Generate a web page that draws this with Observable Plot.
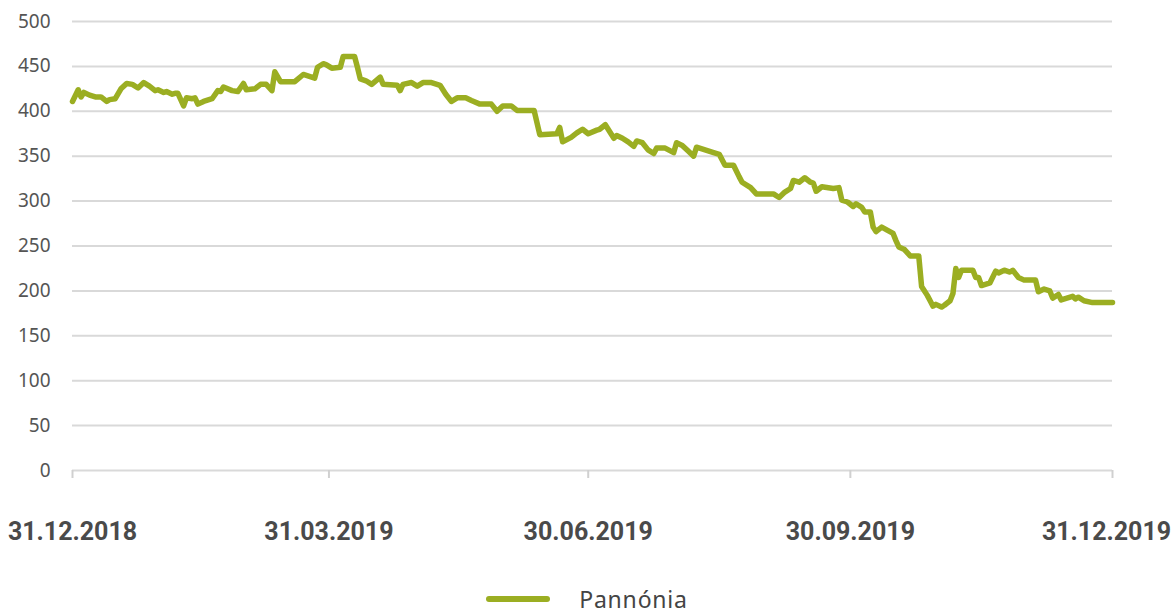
<!DOCTYPE html>
<html>
<head>
<meta charset="utf-8">
<script src="https://cdn.jsdelivr.net/npm/d3@7"></script>
<script src="https://cdn.jsdelivr.net/npm/@observablehq/plot@0.6"></script>
<style>
  html, body { margin: 0; padding: 0; background: #fff; }
  #chart svg { overflow: visible; display: block; }
  .legend { display: flex; justify-content: center; align-items: center; height: 30px; margin-top: 24px; font-family: "Noto Sans", sans-serif; font-size: 23px; line-height: 30px; letter-spacing: 0.8px; color: #444; }
  .legend .sw { width: 64px; height: 6px; background: #9bae22; border-radius: 3px; margin-right: 29px; }
</style>
</head>
<body>
<div id="chart"></div>
<div class="legend"><span class="sw"></span><span>Pannónia</span></div>
<script>
const seriesName = "Pannónia";
const dates = [
  "2018-12-31","2019-01-02","2019-01-03","2019-01-04","2019-01-06","2019-01-08","2019-01-10","2019-01-12","2019-01-13","2019-01-15",
  "2019-01-17","2019-01-19","2019-01-21","2019-01-23","2019-01-25","2019-01-27","2019-01-29","2019-01-30","2019-02-01","2019-02-02",
  "2019-02-04","2019-02-05","2019-02-06","2019-02-08","2019-02-09","2019-02-11","2019-02-12","2019-02-13","2019-02-15","2019-02-18",
  "2019-02-20","2019-02-21","2019-02-22","2019-02-25","2019-02-27","2019-03-01","2019-03-02","2019-03-05","2019-03-07","2019-03-09",
  "2019-03-11","2019-03-12","2019-03-14","2019-03-19","2019-03-22","2019-03-26","2019-03-27","2019-03-29","2019-03-30","2019-04-01",
  "2019-04-04","2019-04-05","2019-04-09","2019-04-10","2019-04-11","2019-04-13","2019-04-15","2019-04-18","2019-04-19","2019-04-24",
  "2019-04-25","2019-04-26","2019-04-29","2019-05-01","2019-05-03","2019-05-06","2019-05-09","2019-05-11","2019-05-13","2019-05-15",
  "2019-05-18","2019-05-20","2019-05-23","2019-05-27","2019-05-29","2019-05-31","2019-06-03","2019-06-05","2019-06-11","2019-06-13",
  "2019-06-19","2019-06-20","2019-06-21","2019-06-24","2019-06-26","2019-06-28","2019-06-30","2019-07-03","2019-07-04","2019-07-06",
  "2019-07-09","2019-07-10","2019-07-12","2019-07-14","2019-07-16","2019-07-17","2019-07-19","2019-07-21","2019-07-23","2019-07-24",
  "2019-07-27","2019-07-30","2019-07-31","2019-08-02","2019-08-04","2019-08-06","2019-08-07","2019-08-10","2019-08-13","2019-08-15",
  "2019-08-17","2019-08-20","2019-08-22","2019-08-23","2019-08-26","2019-08-28","2019-09-03","2019-09-05","2019-09-07","2019-09-09",
  "2019-09-10","2019-09-12","2019-09-14","2019-09-16","2019-09-17","2019-09-18","2019-09-20","2019-09-24","2019-09-26","2019-09-27",
  "2019-09-29","2019-10-01","2019-10-02","2019-10-04","2019-10-05","2019-10-07","2019-10-08","2019-10-09","2019-10-11","2019-10-15",
  "2019-10-16","2019-10-17","2019-10-19","2019-10-21","2019-10-24","2019-10-25","2019-10-27","2019-10-28","2019-10-29","2019-10-30",
  "2019-11-01","2019-11-02","2019-11-04","2019-11-05","2019-11-06","2019-11-07","2019-11-08","2019-11-12","2019-11-13","2019-11-14",
  "2019-11-15","2019-11-18","2019-11-20","2019-11-21","2019-11-23","2019-11-25","2019-11-26","2019-11-28","2019-11-30","2019-12-04",
  "2019-12-05","2019-12-07","2019-12-09","2019-12-10","2019-12-12","2019-12-13","2019-12-17","2019-12-18","2019-12-19","2019-12-21",
  "2019-12-24","2019-12-31"
];
const values = [
  411,424,416,421,418,416,416,411,413,414,
  425,431,430,426,432,428,423,424,421,422,
  419,420,420,406,415,414,415,408,411,414,
  423,422,427,423,422,431,424,425,430,430,
  423,444,433,433,441,437,449,453,452,448,
  449,461,461,449,436,434,430,438,430,429,
  423,430,432,428,432,432,429,419,411,415,
  415,412,408,408,400,406,406,401,401,374,
  375,382,366,371,376,380,375,379,380,385,
  370,373,370,366,361,367,365,357,353,359,
  359,354,365,362,356,350,360,357,354,352,
  340,340,327,321,315,308,308,304,310,314,
  323,321,326,321,320,311,316,314,315,301,
  299,294,297,293,288,288,271,266,271,264,
  256,249,246,239,239,205,195,189,183,185,
  182,184,189,197,225,215,223,223,215,215,
  206,209,222,220,223,221,223,215,212,212,
  199,202,200,192,196,190,194,191,193,189,
  187,187
];
const yTicks = [0, 50, 100, 150, 200, 250, 300, 350, 400, 450, 500];
const xTickDates = ["2018-12-31", "2019-03-31", "2019-06-30", "2019-09-30", "2019-12-31"];

const data = dates.map((d, i) => ({date: new Date(d + "T00:00:00Z"), value: values[i]}));
const xTicks = xTickDates.map(d => new Date(d + "T00:00:00Z"));
const fmt = d3.utcFormat("%d.%m.%Y");
const labelOpts = {y: 0, text: d => fmt(d), dy: 61, lineAnchor: "middle", fontSize: 25, fontWeight: 700, fontFamily: "Roboto", fill: "#4a4a4a"};

const chart = Plot.plot({
  width: 1174,
  height: 560,
  marginLeft: 72,
  marginRight: 62,
  marginTop: 21,
  marginBottom: 90,
  style: {background: "#fff"},
  x: {type: "utc", domain: [xTicks[0], xTicks[xTicks.length - 1]]},
  y: {domain: [0, 500]},
  marks: [
    Plot.gridY(yTicks, {stroke: "#d9d9d9", strokeOpacity: 1, strokeWidth: 2}),
    Plot.axisY(yTicks, {tickSize: 0, tickPadding: 22, fontSize: 19, fontFamily: "Noto Sans", fill: "#555", label: null}),
    Plot.axisX(xTicks, {tickSize: 8, tickFormat: () => "", stroke: "#d0d0d0", strokeWidth: 2, label: null}),
    Plot.text(xTicks.slice(0, -1), {x: d => d, ...labelOpts}),
    Plot.text(xTicks.slice(-1), {x: d => d, ...labelOpts, dx: -6}),
    Plot.lineY(data, {x: "date", y: "value", stroke: "#9bae22", strokeWidth: 5.5, strokeLinejoin: "round", strokeLinecap: "round"})
  ]
});
document.getElementById("chart").appendChild(chart);
</script>
</body>
</html>
